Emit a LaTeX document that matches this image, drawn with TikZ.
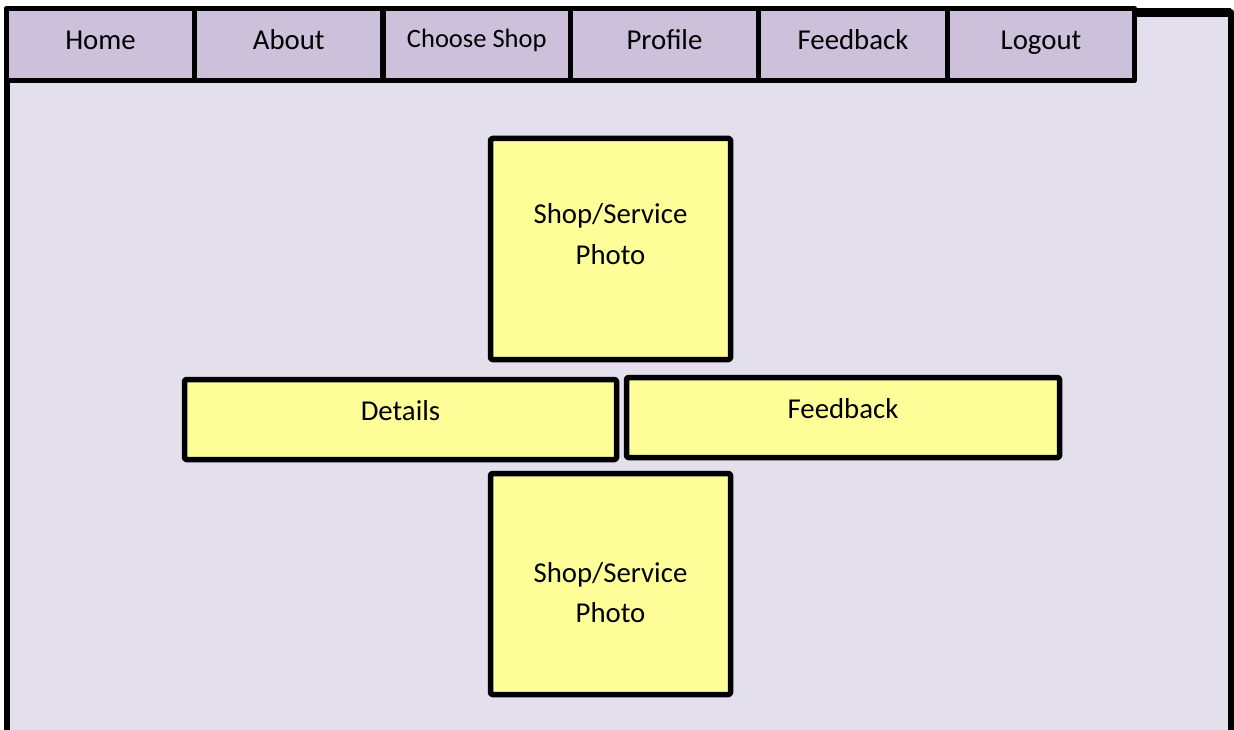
\documentclass[tikz,border=0pt]{standalone}
\usepackage{fontspec}
\setmainfont{Carlito}
\definecolor{tabfill}{HTML}{CCC0DA}
\definecolor{bgfill}{HTML}{E4DFEC}
\definecolor{yfill}{HTML}{FFFF99}
\begin{document}
\begin{tikzpicture}[x=1pt,y=-1pt,line join=round,
  tabbox/.style={draw=black,line width=5.5pt,fill=tabfill,inner sep=0pt,outer sep=0pt,minimum height=72pt},
  ybox/.style={draw=black,line width=5.5pt,fill=yfill,rounded corners=1.5pt,inner sep=0pt,outer sep=0pt},
  lbl/.style={font=\fontsize{28.8}{40}\selectfont,inner sep=0pt,anchor=base,align=center},
  slbl/.style={font=\fontsize{26.5}{32}\selectfont,inner sep=0pt,anchor=base}]
\useasboundingbox (0,0) rectangle (1234,730);
% page frame
\fill[bgfill] (7,12) rectangle (1231,760);
\draw[line width=5.5pt] (7,760) -- (7,12) -- (1231,12) -- (1231,760);
\draw[line width=9pt] (1130,12.5) -- (1231,12.5);
% tabs
\node[tabbox,minimum width=188pt]   (home)  at (100.5,44.5) {};
\node[tabbox,minimum width=188.5pt] (about) at (288.75,44.5) {};
\node[tabbox,minimum width=187.5pt] (shop)  at (476.75,44.5) {};
\node[tabbox,minimum width=188pt]   (prof)  at (664.5,44.5) {};
\node[tabbox,minimum width=189pt]   (feed)  at (853,44.5) {};
\node[tabbox,minimum width=187pt]   (logout) at (1041,44.5) {};
\node[lbl]  (thome)  at ([yshift=-5pt]home.center) {Home};
\node[lbl]  (tabout) at ([yshift=-5pt]about.center) {About};
\node[slbl] (tshop)  at ([yshift=-3.5pt]shop.center) {Choose Shop};
\node[lbl]  (tprof)  at ([yshift=-5pt]prof.center) {Profile};
\node[lbl]  (tfeed)  at ([yshift=-5pt]feed.center) {Feedback};
\node[lbl]  (tlog)   at ([yshift=-5pt]logout.center) {Logout};
% content boxes
\node[ybox,minimum width=240pt,minimum height=221pt] (photoA) at (610.5,249) {};
\node[ybox,minimum width=432pt,minimum height=80pt]  (details) at (400.5,419.5) {};
\node[ybox,minimum width=433pt,minimum height=80pt]  (fback) at (843,417.5) {};
\node[ybox,minimum width=240pt,minimum height=221pt] (photoB) at (610.5,584) {};
\node[lbl] (tphotoA) at ([yshift=-15pt]photoA.center) {Shop/Service\\Photo};
\node[lbl] (tdetails) at ([yshift=-0.5pt]details.center) {Details};
\node[lbl] (tfback) at ([yshift=-0.5pt]fback.center) {Feedback};
\node[lbl] (tphotoB) at ([yshift=-38pt]photoB.center) {Shop/Service\\Photo};
\end{tikzpicture}
\end{document}
